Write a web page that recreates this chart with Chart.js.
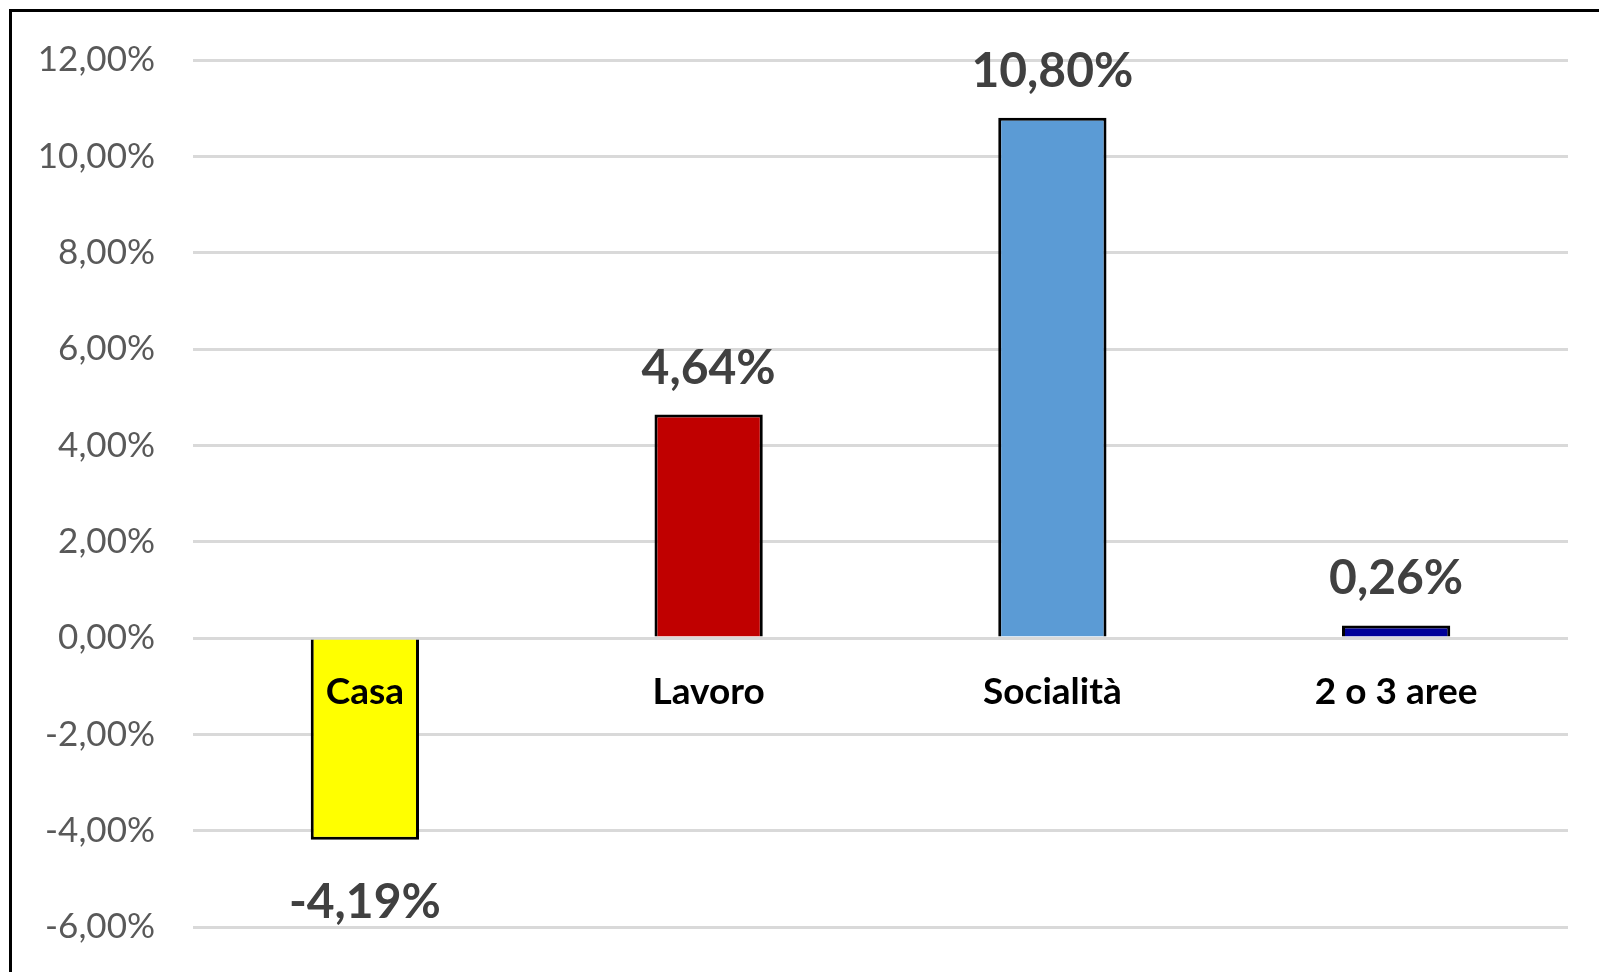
<!DOCTYPE html>
<html>
<head>
    <title>Variazione per area</title>
    <script src="https://cdn.jsdelivr.net/npm/chart.js"></script>
    <style>
        body {
            margin: 0;
            background-color: #ffffff;
            overflow: hidden;
        }
        #frame {
            position: absolute;
            left: 9px;
            top: 9px;
            width: 1600px;
            height: 980px;
            border-left: 3px solid #000;
            border-top: 3px solid #000;
            pointer-events: none;
        }
        #chartBox {
            position: absolute;
            left: 0;
            top: 0;
            width: 1599px;
            height: 972px;
        }
    </style>
</head>
<body>
    <div id="chartBox"><canvas id="chart"></canvas></div>
    <div id="frame"></div>
    <script>
        const categories = ['Casa', 'Lavoro', 'Socialità', '2 o 3 aree'];
        const values = [-4.19, 4.64, 10.80, 0.26];
        const barColors = ['#FFFF00', '#C00000', '#5B9BD5', '#000099'];
        const yMin = -6;
        const yMax = 12;
        const yStep = 2;

        function pct(v, digits) {
            return v.toFixed(digits).replace('.', ',') + '%';
        }

        // value labels above/below each bar, category names just under the zero line
        const labelPlugin = {
            id: 'barLabels',
            afterDatasetsDraw(chart) {
                const ctx = chart.ctx;
                const meta = chart.getDatasetMeta(0);
                const zeroY = chart.scales.y.getPixelForValue(0);
                ctx.save();
                ctx.textAlign = 'center';
                ctx.textBaseline = 'alphabetic';
                meta.data.forEach((bar, i) => {
                    const v = values[i];
                    ctx.font = 'bold 48px Lato';
                    ctx.fillStyle = '#404040';
                    if (v >= 0) {
                        ctx.fillText(pct(v, 2), bar.x, bar.y - 31);
                    } else {
                        ctx.fillText(pct(v, 2), bar.x, bar.y + 78);
                    }
                    ctx.font = 'bold 37px Lato';
                    ctx.fillStyle = '#000000';
                    ctx.fillText(categories[i], bar.x, zeroY + 66);
                });
                ctx.restore();
            }
        };

        new Chart(document.getElementById('chart'), {
            type: 'bar',
            data: {
                labels: categories,
                datasets: [{
                    data: values,
                    backgroundColor: barColors,
                    borderColor: '#000000',
                    borderWidth: 3,
                    categoryPercentage: 1.0,
                    barPercentage: 0.315
                }]
            },
            options: {
                responsive: true,
                maintainAspectRatio: false,
                animation: false,
                layout: {
                    padding: { left: 0, right: 31, top: 60, bottom: 45 }
                },
                plugins: {
                    legend: { display: false },
                    tooltip: { enabled: false }
                },
                scales: {
                    x: {
                        display: false
                    },
                    y: {
                        min: yMin,
                        max: yMax,
                        afterFit(scale) {
                            scale.width = 193;
                        },
                        ticks: {
                            stepSize: yStep,
                            padding: 0,
                            color: '#595959',
                            font: { family: 'Lato', size: 35 },
                            callback: (v) => pct(v, 2)
                        },
                        grid: {
                            color: '#D9D9D9',
                            lineWidth: 3,
                            drawTicks: true,
                            tickLength: 38,
                            tickColor: 'rgba(0,0,0,0)'
                        },
                        border: { display: false }
                    }
                }
            },
            plugins: [labelPlugin]
        });
    </script>
</body>
</html>
